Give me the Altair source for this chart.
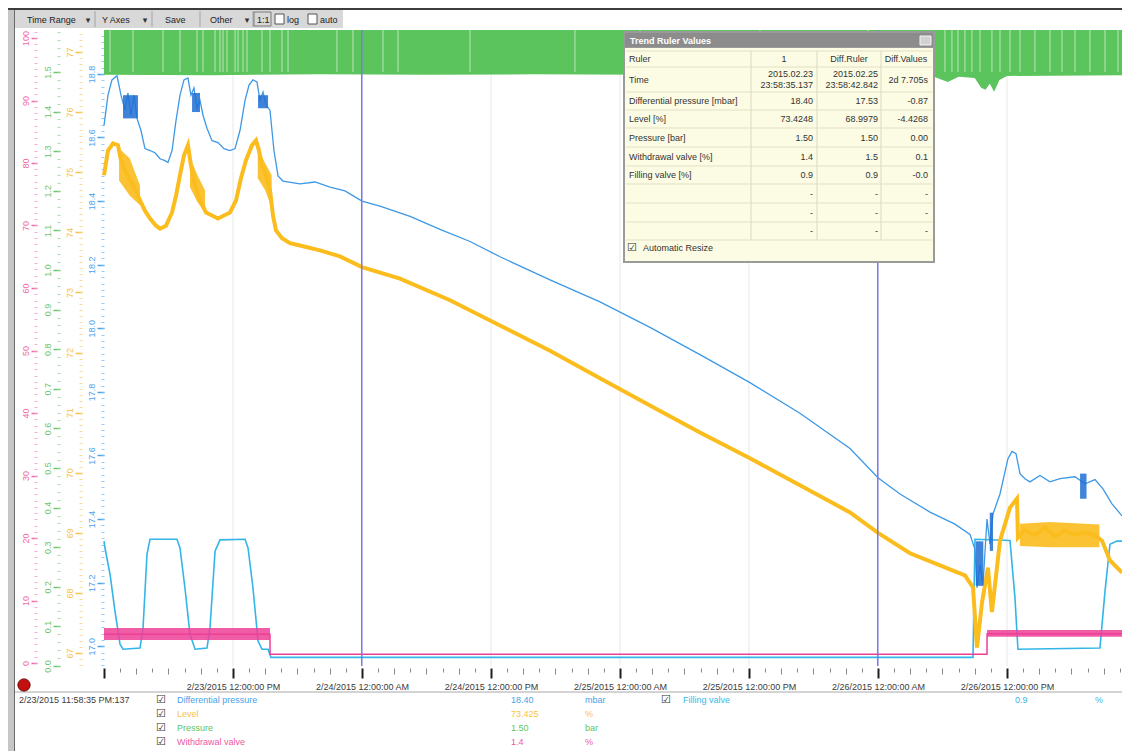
import altair as alt
import pandas as pd

FONT = "Liberation Sans"
BASE = pd.Timestamp("2015-02-23 00:00:00")

# ---------------- data (hours after 2/23/2015 00:00) ----------------
DP_HOURS = [0, 0.37, 0.74, 1.21, 1.58, 1.95, 2.23, 2.51, 2.79, 3.07, 3.44, 3.81, 4.28, 4.74, 5.21, 5.67,
            5.95, 6.33, 6.70, 7.07, 7.44, 7.81, 8.09, 8.37, 8.65, 8.93, 9.21, 9.58, 10.05, 10.60, 11.16,
            11.72, 12.19, 12.65, 13.12, 13.49, 13.86, 14.23, 14.51, 14.79, 15.07, 15.44, 15.81, 16.19,
            16.65, 18.23, 19.63, 21.02, 22.42, 24.0, 25.67, 28.47, 31.26, 34.05, 36.84, 41.49, 46.14,
            50.79, 55.44, 60.09, 64.74, 69.40, 72.0, 74.05, 76.84, 79.16, 80.56, 81.02, 81.21, 81.49,
            81.77, 82.14, 82.42, 82.70, 83.35, 84.09, 84.47, 84.84, 85.21, 85.67, 86.14, 87.07, 88.0,
            88.93, 90.33, 91.26, 92.19, 92.93, 93.77, 94.7]
DP_VALUES = [18.638, 18.733, 18.781, 18.794, 18.733, 18.686, 18.740, 18.670, 18.733, 18.660, 18.622,
             18.565, 18.559, 18.552, 18.533, 18.527, 18.521, 18.559, 18.654, 18.733, 18.781, 18.787,
             18.733, 18.756, 18.692, 18.717, 18.670, 18.629, 18.590, 18.584, 18.565, 18.559, 18.565,
             18.622, 18.717, 18.765, 18.781, 18.775, 18.717, 18.743, 18.702, 18.686, 18.559, 18.479,
             18.463, 18.454, 18.460, 18.444, 18.432, 18.40, 18.384, 18.352, 18.311, 18.273, 18.225,
             18.152, 18.083, 18.003, 17.917, 17.829, 17.733, 17.622, 17.53, 17.479, 17.422, 17.384,
             17.352, 17.305, 17.184, 17.257, 17.194, 17.400, 17.321, 17.416, 17.479, 17.590, 17.613,
             17.606, 17.543, 17.527, 17.517, 17.537, 17.517, 17.527, 17.533, 17.511, 17.524, 17.495,
             17.448, 17.410]
# dense noisy stretches of the differential pressure trace (low / high envelope)
DP_NOISE_HOURS = [1.77, 3.16, 8.19, 8.93, 14.33, 15.26, 81.1, 81.8, 82.4, 82.7, 90.8, 91.4]
DP_NOISE_LOW = [18.660, 18.660, 18.680, 18.680, 18.692, 18.692, 17.19, 17.19, 17.30, 17.30, 17.464, 17.464]
DP_NOISE_HIGH = [18.733, 18.733, 18.740, 18.740, 18.733, 18.733, 17.33, 17.33, 17.42, 17.42, 17.543, 17.543]
DP_NOISE_SEG = ["a", "a", "b", "b", "c", "c", "d", "d", "e", "e", "f", "f"]

LEVEL_HOURS = [0, 0.37, 0.84, 1.30, 1.58, 1.95, 2.42, 2.88, 3.35, 3.81, 4.28, 4.84, 5.21, 5.77, 6.33,
               6.70, 7.07, 7.44, 7.81, 8.09, 8.46, 8.93, 9.49, 10.05, 10.60, 11.16, 11.72, 12.28, 12.74,
               13.21, 13.77, 14.14, 14.42, 14.70, 15.07, 15.44, 15.72, 16.0, 16.56, 17.30, 18.23, 20.09,
               21.95, 24.0, 27.53, 32.19, 36.84, 41.49, 46.14, 50.79, 55.44, 60.09, 64.74, 69.40, 72.0,
               74.98, 77.77, 80.09, 80.84, 81.21, 81.67, 82.23, 82.60, 83.35, 84.28, 84.93, 85.02, 85.67,
               86.60, 87.53, 88.47, 89.40, 90.33, 91.26, 92.19, 92.84, 93.58, 94.7]
LEVEL_VALUES = [74.95, 75.36, 75.48, 75.45, 75.20, 75.03, 74.86, 74.73, 74.53, 74.36, 74.23, 74.11,
                74.06, 74.11, 74.33, 74.61, 74.95, 75.28, 75.45, 75.11, 74.78, 74.53, 74.33, 74.28,
                74.23, 74.28, 74.33, 74.53, 74.90, 75.20, 75.45, 75.53, 75.36, 75.11, 74.95, 74.70,
                74.28, 74.03, 73.90, 73.82, 73.78, 73.70, 73.60, 73.42, 73.23, 72.87, 72.45, 72.03,
                71.57, 71.12, 70.67, 70.24, 69.79, 69.34, 69.00, 68.66, 68.46, 68.29, 68.09, 67.09,
                67.83, 68.42, 67.68, 68.87, 69.42, 69.57, 68.92, 69.04, 68.96, 69.09, 68.94, 69.04,
                68.97, 69.01, 68.96, 68.87, 68.54, 68.34]
LEVEL_NOISE_HOURS = [1.4, 2.4, 3.35, 8.0, 8.7, 9.4, 14.3, 15.0, 15.6, 85.2, 88.0, 92.6]
LEVEL_NOISE_LOW = [74.86, 74.61, 74.45, 74.75, 74.50, 74.33, 74.90, 74.70, 74.40, 68.78, 68.76, 68.76]
LEVEL_NOISE_HIGH = [75.40, 75.23, 74.78, 75.25, 74.95, 74.70, 75.40, 75.15, 74.95, 69.15, 69.18, 69.14]
LEVEL_NOISE_SEG = ["a", "a", "a", "b", "b", "b", "c", "c", "c", "d", "d", "d"]

PRES_HOURS = [0, 10, 20, 30, 40, 50, 60, 70, 77.0, 78.5, 79.5, 81.0, 81.6, 82.0, 82.4, 82.8, 83.3, 84.0, 94.7]
PRES_VALUES = [1.493, 1.492, 1.494, 1.493, 1.494, 1.493, 1.494, 1.493, 1.490, 1.475, 1.488, 1.485,
               1.460, 1.455, 1.470, 1.450, 1.480, 1.490, 1.492]
PRES_GAP_HOURS = [0.56, 2.70, 5.49, 7.07, 8.65, 9.21, 10.33, 10.79, 11.07, 11.44, 12.19, 12.47, 12.93,
                  13.30, 14.70, 15.44, 16.56, 17.12, 21.67, 23.16, 25.95, 27.35, 34.05, 43.81, 49.86,
                  61.02, 71.07, 78.23, 78.88, 79.44, 80.09, 80.74, 81.49, 82.60, 83.35, 84.28, 85.21,
                  86.60, 88.0, 89.12, 90.33, 91.72, 93.12, 94.33]

WV_HOURS = [0, 15.44, 15.45, 82.14, 82.15, 94.7]
WV_VALUES = [4.6, 4.6, 1.4, 1.4, 4.7, 4.7]
WV_BAND_HOURS = [0, 15.44, 82.15, 94.7]
WV_BAND_LOW = [3.7, 3.7, 4.2, 4.2]
WV_BAND_HIGH = [5.6, 5.6, 5.3, 5.3]
WV_BAND_SEG = ["a", "a", "b", "b"]

FV_HOURS = [0, 0.09, 0.56, 1.02, 1.49, 1.77, 3.35, 3.63, 4.0, 4.28, 6.79, 7.07, 7.53, 8.0, 8.47, 9.58,
            9.86, 10.33, 10.79, 13.12, 13.40, 13.86, 14.33, 14.70, 15.26, 15.53, 80.84, 81.02, 84.28,
            84.74, 85.02, 92.65, 93.12, 93.58, 94.23, 94.7]
FV_VALUES = [19.5, 18.4, 14.2, 8.3, 3.0, 2.2, 2.4, 5.6, 17.4, 19.8, 19.8, 18.4, 12.0, 4.6, 2.2, 2.4,
             5.6, 17.9, 19.7, 19.8, 18.4, 12.0, 3.5, 2.2, 2.2, 0.9, 0.9, 19.8, 19.6, 10.5, 2.2, 2.4,
             11.5, 19.0, 19.5, 19.5]

RULER_TIMES = ["2015-02-23T23:58:35", "2015-02-25T23:58:42"]
GRID_HOURS = [12, 24, 36, 48, 60, 72, 84]

DP_TICKS = [17.0, 17.2, 17.4, 17.6, 17.8, 18.0, 18.2, 18.4, 18.6, 18.8]
LEVEL_TICKS = [67, 68, 69, 70, 71, 72, 73, 74, 75, 76, 77]
PRES_TICKS = [0.0, 0.1, 0.2, 0.3, 0.4, 0.5, 0.6, 0.7, 0.8, 0.9, 1.0, 1.1, 1.2, 1.3, 1.4, 1.5]
PCT_TICKS = [0, 10, 20, 30, 40, 50, 60, 70, 80, 90, 100]

RULER_ROWS = ["Ruler", "Time", "Differential pressure [mbar]", "Level [%]", "Pressure [bar]",
              "Withdrawal valve [%]", "Filling valve [%]", "", "", ""]
RULER_COL1 = ["1", "2015.02.23\n23:58:35.137", "18.40", "73.4248", "1.50", "1.4", "0.9", "-", "-", "-"]
RULER_COL2 = ["Diff.Ruler", "2015.02.25\n23:58:42.842", "17.53", "68.9979", "1.50", "1.5", "0.9", "-", "-", "-"]
RULER_COL3 = ["Diff.Values", "2d 7.705s", "-0.87", "-4.4268", "0.00", "0.1", "-0.0", "-", "-", "-"]

LEG_NAMES = ["Differential pressure", "Level", "Pressure", "Withdrawal valve"]
LEG_VALUES = ["18.40", "73.425", "1.50", "1.4"]
LEG_UNITS = ["mbar", "%", "bar", "%"]
LEG2_NAMES = ["Filling valve"]
LEG2_VALUES = ["0.9"]
LEG2_UNITS = ["%"]
CURSOR_TIME = "2/23/2015 11:58:35 PM:137"
TOOLBAR = ["Time Range", "Y Axes", "Save", "Other", "1:1", "log", "auto"]

# ---------------- styles ----------------
C_DP, C_LEVEL, C_PRES, C_WV, C_FV = "#3d98e6", "#fbbd1e", "#5cc45c", "#ee3f97", "#33b5e8"
C_DP_DARK = "#1e6fd4"
C_RULER = "#7b78ea"
LEG_COLORS = ["#4a9fe8", "#f7c24a", "#62c462", "#ef58a2"]

PLOT_L, PLOT_T = 104, 30      # page pixel of plot origin
W, H = 1018, 636


def ix(x):
    return x - PLOT_L


def iy(y):
    return y - PLOT_T


def stamp(hours):
    return [(BASE + pd.Timedelta(hours=float(h))).strftime("%Y-%m-%dT%H:%M:%S") for h in hours]


def dt(ts):
    return alt.DateTime(year=ts.year, month=ts.month, date=ts.day, hours=ts.hour, minutes=ts.minute)


XS = alt.Scale(domain=[dt(BASE), dt(BASE + pd.Timedelta(hours=94.7))], nice=False)
tick_values = [dt(BASE + pd.Timedelta(minutes=90 * k)) for k in range(64)]
T12 = "hours(datum.value) % 12 == 0 && minutes(datum.value) == 0"
T3 = "hours(datum.value) % 3 == 0 && minutes(datum.value) == 0"
X_AXIS = alt.Axis(
    values=tick_values,
    labelExpr=(f"({T12}) && (date(datum.value) > 23 || hours(datum.value) > 0) ? "
               "timeFormat(datum.value, '%-m/%-d/%Y %-I:%M:%S %p') : ''"),
    labelFont=FONT, labelFontSize=9, labelColor="#3a3a3a", labelOverlap=False, labelFlush=False,
    labelPadding=4,
    tickColor={"condition": {"test": T12, "value": "#1e1e1e"}, "value": "#8a8a8a"},
    tickSize={"condition": [{"test": T12, "value": 10}, {"test": T3, "value": 6}], "value": 4},
    tickWidth={"condition": {"test": T12, "value": 2}, "value": 1},
    domain=False, grid=False, title=None, offset=2)


def X(axis=None):
    return alt.X("t:T", scale=XS, axis=axis, title=None)


PRES_TOP = 1.606
S_DP = alt.Scale(domain=[16.938, 18.938], nice=False, zero=False)
S_LEVEL = alt.Scale(domain=[66.784, 77.366], nice=False, zero=False)
S_PRES = alt.Scale(domain=[0.0, PRES_TOP], nice=False, zero=False)
S_PCT = alt.Scale(domain=[-0.48, 101.28], nice=False, zero=False)


def y_axis(values, fmt, color, offset, size=7):
    return alt.Axis(orient="left", offset=offset, values=values, format=fmt, labelAngle=270,
                    labelAlign="center", labelBaseline="bottom", labelColor=color, labelFont=FONT,
                    labelFontSize=9, labelPadding=1, labelOverlap=False, tickColor=color,
                    tickSize=size, tickWidth=1.5, domain=False, grid=False, title=None)


def minor_axis(color, offset, count):
    return alt.Axis(orient="left", offset=offset, tickCount=count, labels=False, tickColor=color,
                    tickSize=3, tickWidth=1, tickOpacity=0.8, domain=False, grid=False, title=None)


def series(hours, values):
    return pd.DataFrame({"t": stamp(hours), "v": values})


def band(hours, lo, hi, seg):
    return pd.DataFrame({"t": stamp(hours), "lo": lo, "hi": hi, "seg": seg})


df_dp = series(DP_HOURS, DP_VALUES)
df_dp_noise = band(DP_NOISE_HOURS, DP_NOISE_LOW, DP_NOISE_HIGH, DP_NOISE_SEG)
df_level = series(LEVEL_HOURS, LEVEL_VALUES)
df_level_noise = band(LEVEL_NOISE_HOURS, LEVEL_NOISE_LOW, LEVEL_NOISE_HIGH, LEVEL_NOISE_SEG)
df_pres = series(PRES_HOURS, PRES_VALUES)
df_gap = series(PRES_GAP_HOURS, [1.5] * len(PRES_GAP_HOURS))
df_wv = series(WV_HOURS, WV_VALUES)
df_fv = series(FV_HOURS, FV_VALUES)
df_band = band(WV_BAND_HOURS, WV_BAND_LOW, WV_BAND_HIGH, WV_BAND_SEG)
df_grid = pd.DataFrame({"t": stamp(GRID_HOURS)})
df_rulers = pd.DataFrame({"t": RULER_TIMES})

ONE = pd.DataFrame({"k": [0]})


def box(x1, y1, x2, y2, fill, stroke=None, sw=1):
    kw = {"fill": fill}
    if fill == "none":
        kw = {"fill": "#ffffff", "fillOpacity": 0}
    if stroke:
        kw.update(stroke=stroke, strokeWidth=sw)
    return alt.Chart(ONE).mark_rect(**kw).encode(
        x=alt.value(ix(x1)), x2=alt.value(ix(x2)), y=alt.value(iy(y1)), y2=alt.value(iy(y2)))


def text_df(xs, ys, texts, colors="#333333"):
    d = pd.DataFrame({"px": [ix(x) for x in xs], "py": [iy(y) for y in ys], "s": texts})
    d["c"] = colors
    return d


def text_layer(d, align="left", size=9, weight="normal", font=FONT, baseline="middle", dy=0):
    return alt.Chart(d).mark_text(align=align, baseline=baseline, fontSize=size, fontWeight=weight,
                                  font=font, lineBreak="\n", dy=dy).encode(
        x=alt.X("px:Q", scale=None, axis=None),
        y=alt.Y("py:Q", scale=None, axis=None),
        text="s:N",
        color=alt.Color("c:N", scale=None, legend=None))


def hlines(ys, x1, x2, color, width=1):
    d = pd.DataFrame({"py": [iy(y) for y in ys]})
    return alt.Chart(d).mark_rule(color=color, strokeWidth=width).encode(
        y=alt.Y("py:Q", scale=None, axis=None), x=alt.value(ix(x1)), x2=alt.value(ix(x2)))


def vlines(xs, y1, y2, color, width=1):
    d = pd.DataFrame({"px": [ix(x) for x in xs]})
    return alt.Chart(d).mark_rule(color=color, strokeWidth=width).encode(
        x=alt.X("px:Q", scale=None, axis=None), y=alt.value(iy(y1)), y2=alt.value(iy(y2)))


layers = []

# grid + data
layers.append(alt.Chart(df_grid).mark_rule(color="#e8e8e8", strokeWidth=1).encode(x=X()))
layers.append(alt.Chart(df_pres).mark_area(color=C_PRES).encode(
    x=X(), y=alt.Y("v:Q", scale=S_PRES, axis=y_axis(PRES_TICKS, ".1f", "#6cc46c", 44)),
    y2=alt.datum(PRES_TOP)))
layers.append(alt.Chart(df_gap).mark_rule(color="#b9e8b9", strokeWidth=1).encode(
    x=X(), y=alt.Y("v:Q", scale=S_PRES, axis=None), y2=alt.value(0)))
layers.append(alt.Chart(df_fv).mark_line(color=C_FV, strokeWidth=1.6).encode(
    x=X(), y=alt.Y("v:Q", scale=S_PCT, axis=None)))
layers.append(alt.Chart(df_band).mark_area(color=C_WV, opacity=0.85).encode(
    x=X(), y=alt.Y("lo:Q", scale=S_PCT, axis=None), y2="hi:Q", detail="seg:N"))
layers.append(alt.Chart(df_wv).mark_line(color=C_WV, strokeWidth=1.5).encode(
    x=X(), y=alt.Y("v:Q", scale=S_PCT, axis=y_axis(PCT_TICKS, "d", "#f06aa8", 67, 6))))
layers.append(alt.Chart(df_level_noise).mark_area(color=C_LEVEL, opacity=0.9).encode(
    x=X(), y=alt.Y("lo:Q", scale=S_LEVEL, axis=None), y2="hi:Q", detail="seg:N"))
layers.append(alt.Chart(df_level).mark_line(color=C_LEVEL, strokeWidth=4).encode(
    x=X(), y=alt.Y("v:Q", scale=S_LEVEL, axis=y_axis(LEVEL_TICKS, "d", "#f5c24a", 22))))
layers.append(alt.Chart(df_dp).mark_line(color=C_DP, strokeWidth=1.3).encode(
    x=X(X_AXIS), y=alt.Y("v:Q", scale=S_DP, axis=y_axis(DP_TICKS, ".1f", "#4aa3ec", 0))))
layers.append(alt.Chart(df_dp_noise).mark_area(color=C_DP_DARK, opacity=0.85).encode(
    x=X(), y=alt.Y("lo:Q", scale=S_DP, axis=None), y2="hi:Q", detail="seg:N"))
layers.append(alt.Chart(df_rulers).mark_rule(color=C_RULER, strokeWidth=1.5).encode(x=X()))

# minor tick columns
for d, sc, col, off, cnt in [(df_dp, S_DP, "#7cbcf0", 0, 100), (df_level, S_LEVEL, "#f8d27a", 22, 100),
                             (df_pres, S_PRES, "#94d894", 44, 80), (df_wv, S_PCT, "#f59cc6", 67, 100)]:
    layers.append(alt.Chart(d).mark_line(opacity=0).encode(
        x=X(), y=alt.Y("v:Q", scale=sc, axis=minor_axis(col, off, cnt))))

# ruler values panel
layers += [
    box(623, 31, 935, 263, "#9a9a9a"),
    box(625, 33, 933, 47, "#8c8c8c"),
    box(625, 48, 933, 261, "#fcfbe3"),
    box(920, 36, 931, 45, "#d2d2d2", "#f4f4f4"),
    hlines([51, 67, 92, 110, 128, 147, 166, 184, 203, 222, 240], 626, 932, "#e2e0c4"),
    vlines([751, 817, 881], 51, 240, "#dcdac0"),
    text_layer(text_df([630], [40.5], ["Trend Ruler Values"], "#ffffff"), size=9, weight="bold"),
]
row_bounds = [51, 67, 92, 110, 128, 147, 166, 184, 203, 222, 240]
row_mid = [(row_bounds[i] + row_bounds[i + 1]) / 2 for i in range(len(RULER_ROWS))]
layers.append(text_layer(text_df([629] * len(RULER_ROWS), row_mid, RULER_ROWS)))
layers.append(text_layer(text_df([784, 849, 906], [row_mid[0]] * 3,
                                 [RULER_COL1[0], RULER_COL2[0], RULER_COL3[0]]), align="center"))
# two-line time stamps
layers.append(text_layer(text_df([813, 878], [row_mid[1]] * 2, [RULER_COL1[1], RULER_COL2[1]]),
                         align="right", dy=-6))
layers.append(text_layer(text_df([928], [row_mid[1]], [RULER_COL3[1]]), align="right"))
for colx, vals in [(813, RULER_COL1), (878, RULER_COL2), (928, RULER_COL3)]:
    layers.append(text_layer(text_df([colx] * (len(vals) - 2), row_mid[2:], vals[2:]), align="right"))
layers.append(text_layer(text_df([632], [248], ["\u2611"], "#333333"), align="center", size=11,
                         font="DejaVu Sans"))
layers.append(text_layer(text_df([643], [248], ["Automatic Resize"])))

# bottom status / legend area
rows_y = [700, 714, 728, 742]
layers += [
    hlines([692], 15, 1130, "#a8a8a8"),
    alt.Chart(ONE).mark_point(filled=True, size=150, color="#c41010", opacity=1,
                              stroke="#6a0000", strokeWidth=1).encode(
        x=alt.value(ix(24)), y=alt.value(iy(685))),
    text_layer(text_df([19], [700], [CURSOR_TIME], "#3a3a3a")),
    text_layer(text_df([161] * 4 + [666], rows_y + [700], ["\u2611"] * 5, "#333333"),
               align="center", size=11, font="DejaVu Sans"),
    text_layer(text_df([177] * 4, rows_y, LEG_NAMES, LEG_COLORS)),
    text_layer(text_df([511] * 4, rows_y, LEG_VALUES, LEG_COLORS)),
    text_layer(text_df([585] * 4, rows_y, LEG_UNITS, LEG_COLORS)),
    text_layer(text_df([683], [700], LEG2_NAMES, "#3ab8ea")),
    text_layer(text_df([1015], [700], LEG2_VALUES, "#3ab8ea")),
    text_layer(text_df([1095], [700], LEG2_UNITS, "#3ab8ea")),
]

# window frame + toolbar
layers += [
    box(8, 8, 14, 751, "#c6c6c6"),
    box(14, 8, 15, 751, "#6a6a6a"),
    box(8, 8, 1130, 10, "#3c3c3c"),
    box(15, 10, 343, 28, "#d8d8d8"),
    vlines([95, 152, 200, 253], 11, 27, "#a4a4a4"),
    box(254, 12, 271, 26, "none", "#7a7a7a"),
    box(275, 14, 284, 24, "#ffffff", "#555555"),
    box(308, 14, 317, 24, "#ffffff", "#555555"),
    text_layer(text_df([27, 102, 165, 210, 257, 287, 320], [19.5] * 7, TOOLBAR, "#222222"), size=9),
    text_layer(text_df([88, 145, 247], [19.5] * 3, ["\u25be"] * 3, "#333333"), align="center",
               size=9, font="DejaVu Sans"),
]

chart = alt.layer(*layers).resolve_scale(x="independent", y="independent").properties(
    width=W, height=H,
    padding={"left": 96, "top": 22, "right": 0, "bottom": 85},
    autosize=alt.AutoSizeParams(type="none"),
    background="#ffffff",
).configure_view(stroke=None)

chart.save("out.html", embed_options={"renderer": "svg", "actions": False})
